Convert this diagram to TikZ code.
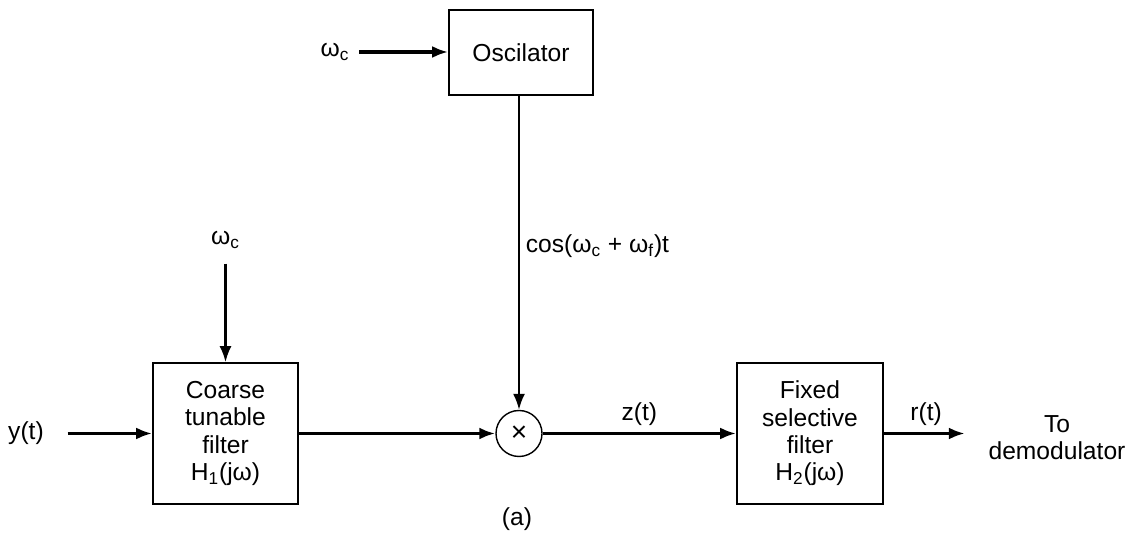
\documentclass[tikz,border=0pt]{standalone}
\usepackage{fontspec}
\setmainfont{Liberation Sans}
\usetikzlibrary{arrows.meta, positioning}

\begin{document}
\begin{tikzpicture}[
    block/.style={rectangle, draw=black, line width=1pt, minimum width=2.9cm, minimum height=2.82cm, align=center, font=\fontsize{14}{15.5}\selectfont},
    label/.style={font=\fontsize{14}{15.5}\selectfont, align=center},
    mixer/.style={circle, draw=black, line width=0.8pt, minimum size=0.92cm, inner sep=0pt, font=\fontsize{16}{16}\selectfont},
    flow/.style={-{Latex[length=3.2mm, width=2.4mm]}, line width=2pt},
    thinflow/.style={-{Latex[length=3.2mm, width=2.4mm]}, line width=1.2pt}
]
    \useasboundingbox (0,0) rectangle (22.9,10.72);

    % Oscillator branch
    \node[block, minimum width=2.88cm, minimum height=1.7cm] (osc) at (10.42, 9.67) {Oscilator};
    \node[label] (wctop) at (6.70, 9.68) {ω\textsubscript{c}};
    \draw[flow, shorten <=2pt] (wctop) -- (wctop -| osc.west);

    % Main signal path
    \node[label] (yin) at (0.52, 2.05) {y(t)};
    \node[block] (coarse) at (4.51, 2.05) {Coarse\\tunable\\filter\\H\textsubscript{1}(jω)};
    \node[mixer] (mult) at (10.38, 2.05) {×};
    \node[block, minimum width=2.92cm] (fixed) at (16.2, 2.05) {Fixed\\selective\\filter\\H\textsubscript{2}(jω)};
    \node[label] (demod) at (21.14, 1.97) {To\\demodulator};
    \node[label] (wcside) at (4.51, 5.92) {ω\textsubscript{c}};

    \draw[flow, shorten <=10pt] (yin) -- (coarse);
    \draw[thinflow, shorten <=5pt] (wcside) -- (coarse);
    \draw[flow] (coarse) -- (mult);
    \draw[thinflow] (osc.south -| mult) -- node[label, right, pos=0.48] {cos(ω\textsubscript{c} + ω\textsubscript{f})t} (mult);
    \draw[flow] (mult) -- node[label, above] {z(t)} (fixed);
    \draw[flow, shorten >=10pt] (fixed) -- node[label, above, xshift=-4pt] {r(t)} (demod.west |- fixed);

    % Caption
    \node[label] (cap) at (10.34, 0.34) {(a)};

\end{tikzpicture}
\end{document}
